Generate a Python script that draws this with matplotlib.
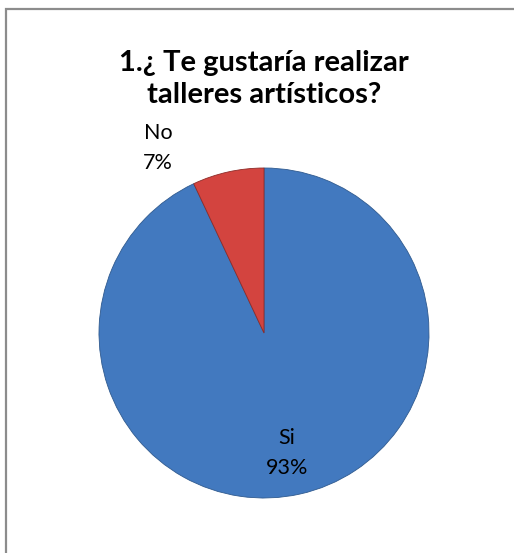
import matplotlib
matplotlib.use("Agg")
import matplotlib.pyplot as plt
from matplotlib.patches import Rectangle

categories = ["Si", "No"]
values = [93, 7]
pct_labels = ["93%", "7%"]
colors = ["#4279bf", "#d3443f"]
title = "1.¿ Te gustaría realizar\ntalleres artísticos?"

W, H = 514, 553
fig = plt.figure(figsize=(W / 100, H / 100), dpi=100)
ax = fig.add_axes([0, 0, 1, 1])

cx, cy, r = 264, H - 333, 165
wedges, _ = ax.pie(values, colors=colors, startangle=90, counterclock=False,
                   center=(cx, cy), radius=r, frame=True,
                   wedgeprops=dict(edgecolor="#2f5a8f", linewidth=0.6))
wedges[1].set_edgecolor("#8e2b28")
ax.set_xlim(0, W)
ax.set_ylim(0, H)
ax.set_aspect("equal")
ax.axis("off")

# chart frame
ax.add_patch(Rectangle((6, -20), W + 20, H - 9 + 20, fill=False,
                       edgecolor="#8c8c8c", linewidth=1.6))

font = "Lato"
ax.text(264, H - 79, title, ha="center", va="center", fontsize=21,
        fontweight="bold", family=font, linespacing=1.28, color="black")

label_pos = {"Si": (287, H - 453), "No": (158, H - 148)}
for cat, pct in zip(categories, pct_labels):
    x, y = label_pos[cat]
    ax.text(x, y, f"{cat}\n{pct}", ha="center", va="center", fontsize=15.5,
            family=font, linespacing=1.6, color="black")

fig.savefig("out.png", dpi=100)
